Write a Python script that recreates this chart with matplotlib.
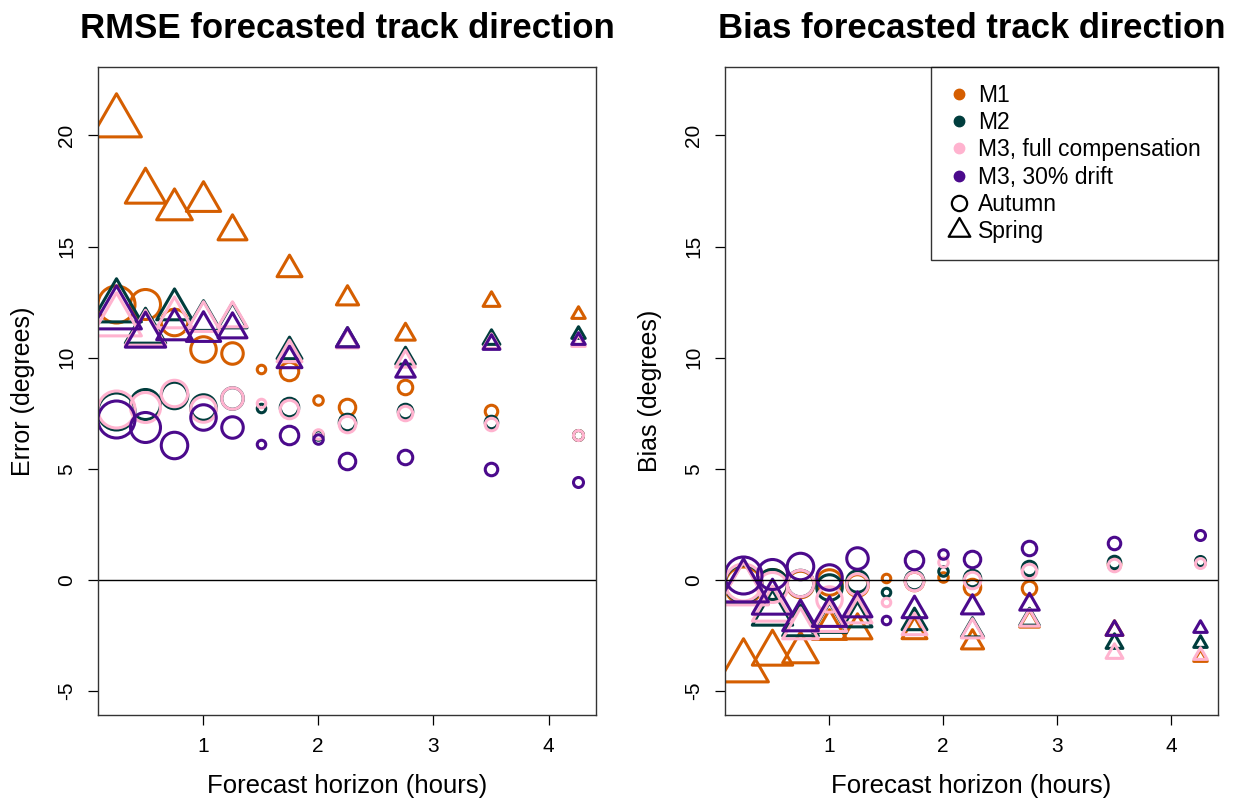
import numpy as np
import matplotlib.pyplot as plt
from matplotlib.path import Path
from matplotlib.lines import Line2D

plt.rcParams['font.family'] = ['Liberation Sans', 'DejaVu Sans']
plt.rcParams['axes.unicode_minus'] = False

# forecast horizons (hours)
horizon = [0.25, 0.5, 0.75, 1.0, 1.25, 1.5, 1.75, 2.0, 2.25, 2.75, 3.5, 4.25]
# spring has no 1.5 h and 2 h horizons
horizon_spring = [0.25, 0.5, 0.75, 1.0, 1.25, 1.75, 2.25, 2.75, 3.5, 4.25]

models = ["M1", "M2", "M3, full compensation", "M3, 30% drift"]
colors = ["#D55E00", "#003D3D", "#FFB3CF", "#4B0A8C"]

# RMSE, autumn (circles)
rmse_autumn = {
    "M1": [12.4, 12.4, 11.6, 10.4, 10.2, 9.5, 9.4, 8.1, 7.8, 8.7, 7.6, 6.5],
    "M2": [7.6, 7.9, 8.3, 7.8, 8.2, 7.75, 7.8, 6.5, 7.1, 7.6, 7.1, 6.5],
    "M3, full compensation": [7.7, 7.8, 8.4, 7.7, 8.2, 7.95, 7.7, 6.55, 7.0, 7.5, 7.0, 6.5],
    "M3, 30% drift": [7.25, 6.9, 6.05, 7.35, 6.9, 6.1, 6.5, 6.35, 5.35, 5.55, 5.0, 4.4],
}
# RMSE, spring (triangles)
rmse_spring = {
    "M1": [20.6, 17.5, 16.7, 17.05, 15.7, 14.0, 12.7, 11.05, 12.55, 11.95],
    "M2": [12.3, 11.2, 12.2, 11.7, 11.75, 10.3, 10.8, 10.0, 10.85, 11.05],
    "M3, full compensation": [11.65, 11.1, 11.85, 11.65, 11.8, 10.15, 10.75, 9.85, 10.65, 10.7],
    "M3, 30% drift": [11.95, 11.0, 11.3, 11.2, 11.3, 9.9, 10.8, 9.4, 10.6, 10.8],
}

# Bias, autumn (circles)
bias_autumn = {
    "M1": [-0.25, -0.2, -0.2, -0.1, -0.25, 0.08, -0.05, 0.12, -0.3, -0.38, 0.7, 0.8],
    "M2": [-0.15, -0.2, -0.15, -0.3, -0.05, -0.53, 0.0, 0.42, 0.07, 0.53, 0.8, 0.84],
    "M3, full compensation": [-0.1, -0.3, -0.15, -0.85, -0.2, -1.0, -0.03, 0.8, 0.0, 0.42, 0.68, 0.75],
    "M3, 30% drift": [0.2, 0.28, 0.64, 0.12, 1.0, -1.8, 0.9, 1.17, 0.95, 1.43, 1.65, 2.03],
}
# Bias, spring (triangles)
bias_spring = {
    "M1": [-3.92, -3.3, -3.25, -2.2, -2.27, -2.29, -2.8, -1.85, -2.25, -3.45],
    "M2": [-0.4, -1.5, -2.05, -1.9, -1.7, -1.89, -2.25, -1.75, -2.85, -2.85],
    "M3, full compensation": [-0.45, -1.3, -2.15, -1.87, -1.55, -2.1, -2.28, -1.8, -3.3, -3.4],
    "M3, 30% drift": [-0.3, -1.0, -1.82, -1.63, -1.28, -1.35, -1.2, -1.1, -2.24, -2.16],
}

# symbol size per horizon (circle diameter in px)
size_px = {0.25: 37, 0.5: 30, 0.75: 26.5, 1.0: 25.5, 1.25: 21.5, 1.5: 8.5,
           1.75: 18.5, 2.0: 9.5, 2.25: 16.5, 2.75: 14.5, 3.5: 12.5, 4.25: 10}

DPI = 100
PT = 72 / DPI
# equilateral triangle centred on its centroid (like R's pch = 2)
tri = Path([(0, 1), (-0.866, -0.5), (0.866, -0.5), (0, 1)],
           [Path.MOVETO, Path.LINETO, Path.LINETO, Path.CLOSEPOLY])
LW = 2.2

fig = plt.figure(figsize=(12.35, 8.01), dpi=DPI)
ax1 = fig.add_axes([98 / 1235, 1 - 715 / 801, 498 / 1235, 648 / 801])
ax2 = fig.add_axes([725 / 1235, 1 - 715 / 801, 493 / 1235, 648 / 801])


def draw(ax, autumn, spring):
    for m, c in zip(models, colors):
        for h, v in zip(horizon, autumn[m]):
            ax.plot(h, v, marker='o', ms=size_px[h] * PT, mfc='none', mec=c, mew=LW,
                    linestyle='none')
        for h, v in zip(horizon_spring, spring[m]):
            ax.plot(h, v, marker=tri, ms=size_px[h] * 1.555 * PT, mfc='none', mec=c,
                    mew=LW, linestyle='none')
    ax.axhline(0, color='black', lw=1)
    ax.set_xlim(0.09, 4.41)
    ax.set_ylim(-6.08, 23.08)
    ax.set_xticks([1, 2, 3, 4])
    ax.set_yticks([-5, 0, 5, 10, 15, 20])
    ax.tick_params(length=7.5, width=0.9, labelsize=15, pad=8)
    for lab in ax.get_yticklabels():
        lab.set_rotation(90)
        lab.set_va('center')
    for s in ax.spines.values():
        s.set_linewidth(1)
        s.set_color('#333333')


draw(ax1, rmse_autumn, rmse_spring)
draw(ax2, bias_autumn, bias_spring)

ax1.set_xlabel("Forecast horizon (hours)", fontsize=18.5, labelpad=13)
ax2.set_xlabel("Forecast horizon (hours)", fontsize=18.5, labelpad=13)
ax1.set_ylabel("Error (degrees)", fontsize=18, labelpad=16)
ax2.set_ylabel("Bias (degrees)", fontsize=18, labelpad=16)
ax1.text(0.5, 1 + 38 / 648, "RMSE forecasted track direction", transform=ax1.transAxes,
         ha='center', va='center', fontsize=25, fontweight='bold')
ax2.text(0.5, 1 + 38 / 648, "Bias forecasted track direction", transform=ax2.transAxes,
         ha='center', va='center', fontsize=25, fontweight='bold')

# legend
handles = [Line2D([], [], marker='o', ms=7.5, color=c, linestyle='none') for c in colors]
handles += [Line2D([], [], marker='o', ms=11, mfc='none', mec='black', mew=1.6, linestyle='none'),
            Line2D([], [], marker=tri, ms=18, mfc='none', mec='black', mew=1.6, linestyle='none')]
labels = models + ["Autumn", "Spring"]
leg = ax2.legend(handles, labels, loc='upper right', borderaxespad=0, fontsize=16.5,
                 frameon=True, fancybox=False, edgecolor='black', handletextpad=0.4,
                 labelspacing=0.18, borderpad=0.75, handlelength=0.9)
leg.get_frame().set_linewidth(1)

fig.savefig("out.png", dpi=DPI)
